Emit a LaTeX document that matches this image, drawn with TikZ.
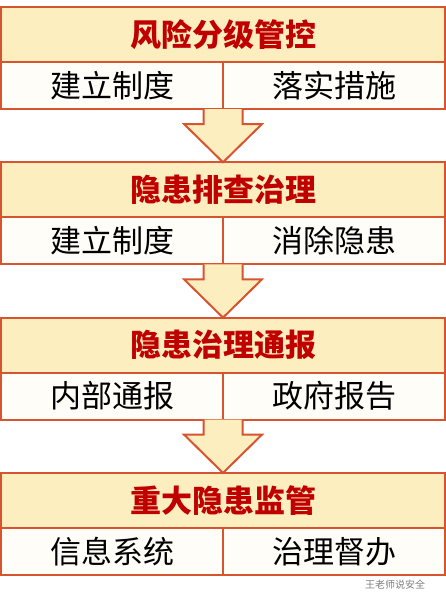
\documentclass[tikz,border=0pt]{standalone}
\usepackage{fontspec}
\setmainfont{Noto Sans CJK SC}
\usetikzlibrary{positioning,calc}
\definecolor{edgeorange}{RGB}{214,84,46}
\definecolor{headfill}{RGB}{253,238,192}
\definecolor{cellfill}{RGB}{255,253,248}
\definecolor{headred}{RGB}{192,0,0}
\tikzset{
  head/.style={draw=edgeorange, fill=headfill, line width=2pt, minimum width=444pt, minimum height=55pt,
    inner sep=0pt, outer sep=0pt, font=\fontsize{31}{33}\selectfont\bfseries, text=headred},
  cell/.style={draw=edgeorange, fill=cellfill, line width=2pt, minimum width=222pt, minimum height=47pt,
    inner sep=0pt, outer sep=0pt, font=\fontsize{31}{33}\selectfont, anchor=north west},
  blockarrow/.style={draw=edgeorange, fill=headfill, line width=2pt, line join=miter}
}
\begin{document}
\begin{tikzpicture}[x=1pt, y=-1pt]
	\useasboundingbox (0,0) rectangle (446,592);
	% Block 1
	\node[head] (h1) at (223,34.5) {风险分级管控};
	\node[cell] (l1) at (h1.south west) {建立制度};
	\node[cell] (r1) at (l1.north east) {落实措施};
	% Block 2
	\node[head, below=53.3pt of l1.south east] (h2) {隐患排查治理};
	\node[cell] (l2) at (h2.south west) {建立制度};
	\node[cell] (r2) at (l2.north east) {消除隐患};
	% Block 3
	\node[head, below=53.3pt of l2.south east] (h3) {隐患治理通报};
	\node[cell] (l3) at (h3.south west) {内部通报};
	\node[cell] (r3) at (l3.north east) {政府报告};
	% Block 4
	\node[head, below=53.3pt of l3.south east] (h4) {重大隐患监管};
	\node[cell] (l4) at (h4.south west) {信息系统};
	\node[cell] (r4) at (l4.north east) {治理督办};
	% Down arrows between the blocks
	\foreach \a/\b in {l1/h2, l2/h3, l3/h4} {
		\draw[blockarrow] ($(\a.south east)+(-19.5,0)$) -- ++(0,15) -- ++(-19.5,0)
			-- (\b.north) -- ($(\a.south east)+(39,15)$) -- ++(-19.5,0) -- ($(\a.south east)+(19.5,0)$);
	}
	% Watermark
	\node[text=gray, font=\fontsize{10}{11}\selectfont] (mark) at (395,584.5) {王老师说安全};
\end{tikzpicture}
\end{document}
